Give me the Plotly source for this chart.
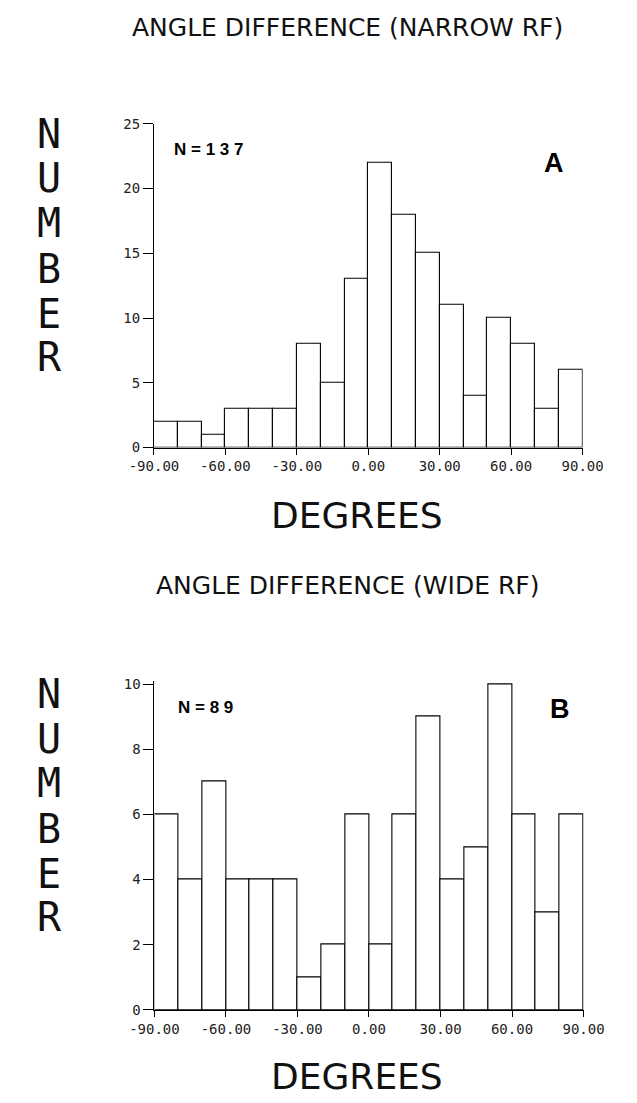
import plotly.graph_objects as go

W, H = 637, 1103

# ---- data ----
bin_centers = [-85, -75, -65, -55, -45, -35, -25, -15, -5, 5, 15, 25, 35, 45, 55, 65, 75, 85]
narrow_counts = [2, 2, 1, 3, 3, 3, 8, 5, 13, 22, 18, 15, 11, 4, 10, 8, 3, 6]
wide_counts = [6, 4, 7, 4, 4, 4, 1, 2, 6, 2, 6, 9, 4, 5, 10, 6, 3, 6]
x_tickvals = [-90, -60, -30, 0, 30, 60, 90]
x_ticktext = ["-90.00", "-60.00", "-30.00", "0.00", "30.00", "60.00", "90.00"]
yA_ticks = [0, 5, 10, 15, 20, 25]
yB_ticks = [0, 2, 4, 6, 8, 10]
titleA = "ANGLE DIFFERENCE (NARROW RF)"
titleB = "ANGLE DIFFERENCE (WIDE RF)"
nA = "N = 1 3 7"
nB = "N = 8 9"


def px(x):
    return x / W


def py(y):
    return 1 - y / H


fig = go.Figure()
bar_style = dict(marker=dict(color="white", line=dict(color="black", width=1.1)),
                 width=10, showlegend=False, hoverinfo="x+y", cliponaxis=False)
fig.add_trace(go.Bar(x=bin_centers, y=narrow_counts, xaxis="x", yaxis="y", **bar_style))
fig.add_trace(go.Bar(x=bin_centers, y=wide_counts, xaxis="x2", yaxis="y2", **bar_style))

tickfont = dict(family="DejaVu Sans Mono", size=14, color="#222")
xcommon = dict(range=[-90, 90], tickvals=x_tickvals, ticktext=x_ticktext,
               showline=True, linecolor="black", linewidth=1, ticks="outside",
               ticklen=6, tickcolor="black", tickwidth=1, showgrid=False,
               zeroline=False, tickfont=tickfont)
ycommon = dict(showline=True, linecolor="black", linewidth=1, ticks="outside",
               ticklen=10, tickcolor="black", tickwidth=1, showgrid=False,
               zeroline=False, tickfont=tickfont)

# panel B: 10 units span 686 -> 1016.7 px; add a small headroom so the top bar edge shows
b_pix_per_unit = (1016.7 - 686) / 10
b_top = 10.08
fig.update_layout(
    width=W, height=H,
    margin=dict(l=0, r=0, t=0, b=0),
    paper_bgcolor="white", plot_bgcolor="white",
    bargap=0,
    xaxis=dict(domain=[px(139), px(601)], anchor="y", **xcommon),
    yaxis=dict(domain=[py(446), py(117.5)], range=[0, 25], tickvals=yA_ticks,
               anchor="x", **ycommon),
    xaxis2=dict(domain=[px(139.5), px(602)], anchor="y2", **xcommon),
    yaxis2=dict(domain=[py(1016.7), py(1016.7 - b_top * b_pix_per_unit)],
                range=[0, b_top], tickvals=yB_ticks, anchor="x2", **ycommon),
)

ann = []


def text(x, y, s, size, family="DejaVu Sans", bold=False, color="black"):
    ann.append(dict(x=px(x), y=py(y), xref="paper", yref="paper", text=s,
                    showarrow=False, xanchor="center", yanchor="middle",
                    font=dict(family=family, size=size, color=color,
                              weight="bold" if bold else "normal")))


# titles
text(348, 20, titleA, 25, color="#111")
text(348, 586, titleB, 25, color="#111")
# x axis titles
text(358, 515, "DEGREES", 36, color="#111")
text(358, 1084, "DEGREES", 36, color="#111")
# vertical NUMBER labels
letters = list("NUMBER")
centersA = [128, 173, 218, 265, 310, 354]
for L, c in zip(letters, centersA):
    text(26, c, L, 40, family="DejaVu Sans Mono", color="#111")
    text(26, c + 568.5, L, 40, family="DejaVu Sans Mono", color="#111")
# N labels and panel letters
text(198, 143.5, nA, 17, family="Liberation Sans", bold=True)
text(194.5, 710, nB, 17, family="Liberation Sans", bold=True)
text(570, 157, "A", 27, family="Liberation Sans", bold=True)
text(577, 711, "B", 27, family="Liberation Sans", bold=True)

fig.update_layout(annotations=ann)
fig.write_html("out.html")
